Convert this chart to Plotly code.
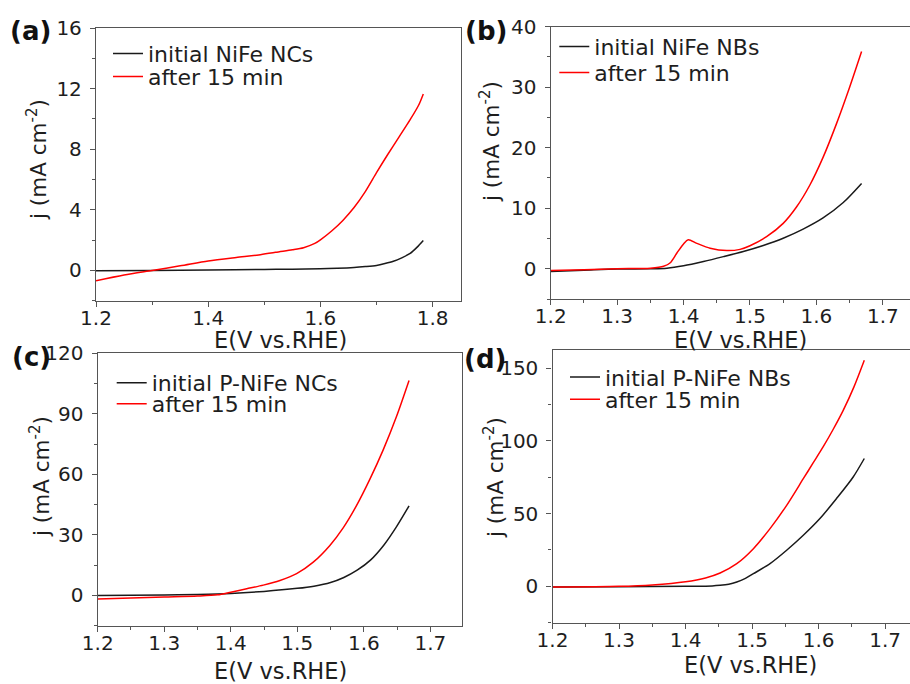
import plotly.graph_objects as go

W, H = 910, 684

# ---------------- data ----------------
# (a) NiFe NCs
a_black_x = [1.20, 1.30, 1.40, 1.50, 1.55, 1.60, 1.63, 1.66, 1.68, 1.70, 1.715, 1.73, 1.745, 1.76, 1.772, 1.7834]
a_black_y = [-0.02, 0.0, 0.03, 0.06, 0.08, 0.11, 0.14, 0.19, 0.25, 0.33, 0.45, 0.60, 0.83, 1.12, 1.52, 1.98]
a_red_x = [1.20, 1.25, 1.30, 1.35, 1.40, 1.45, 1.49, 1.52, 1.55, 1.57, 1.59, 1.60, 1.62,
           1.64, 1.66, 1.68, 1.70, 1.72, 1.74, 1.76, 1.775, 1.7834]
a_red_y = [-0.68, -0.30, 0.0, 0.30, 0.62, 0.85, 1.02, 1.20, 1.36, 1.50, 1.78, 2.02, 2.60,
           3.30, 4.15, 5.20, 6.45, 7.65, 8.80, 9.95, 10.90, 11.65]

# (b) NiFe NBs
b_black_x = [1.20, 1.25, 1.30, 1.35, 1.375, 1.40, 1.43, 1.46, 1.49, 1.52, 1.55, 1.58, 1.61, 1.64, 1.668]
b_black_y = [-0.45, -0.25, -0.05, 0.0, 0.1, 0.5, 1.2, 2.0, 2.85, 3.85, 5.05, 6.55, 8.4, 10.9, 14.1]
b_red_x = [1.20, 1.25, 1.30, 1.35, 1.37, 1.38, 1.39, 1.40, 1.407, 1.42, 1.44, 1.465, 1.485,
           1.50, 1.525, 1.55, 1.57, 1.59, 1.61, 1.63, 1.65, 1.668]
b_red_y = [-0.30, -0.15, 0.0, 0.1, 0.4, 1.0, 2.6, 4.1, 4.8, 4.2, 3.4, 3.0, 3.2,
           3.8, 5.3, 7.5, 10.2, 13.8, 18.4, 23.9, 30.0, 35.9]

# (c) P-NiFe NCs
c_black_x = [1.20, 1.30, 1.35, 1.40, 1.45, 1.50, 1.525, 1.55, 1.57, 1.59, 1.61, 1.63, 1.649, 1.668]
c_black_y = [0.0, 0.2, 0.5, 1.0, 2.0, 3.5, 4.6, 6.4, 8.9, 12.5, 17.5, 24.9, 34.0, 44.4]
c_red_x = [1.20, 1.25, 1.30, 1.35, 1.38, 1.40, 1.424, 1.449, 1.474, 1.499, 1.524, 1.549,
           1.569, 1.589, 1.609, 1.629, 1.649, 1.668]
c_red_y = [-1.8, -1.3, -0.8, -0.3, 0.3, 1.6, 3.3, 5.1, 7.4, 10.8, 16.5, 24.8,
           33.5, 44.5, 57.5, 72.0, 88.5, 106.5]

# (d) P-NiFe NBs
d_black_x = [1.20, 1.30, 1.40, 1.44, 1.452, 1.465, 1.477, 1.49, 1.502, 1.527, 1.552, 1.577,
             1.602, 1.627, 1.652, 1.6687]
d_black_y = [-0.5, -0.2, 0.1, 0.3, 0.7, 1.5, 3.0, 5.5, 8.7, 15.6, 24.8, 35.1,
             46.6, 60.4, 75.2, 87.9]
d_red_x = [1.20, 1.30, 1.35, 1.40, 1.43, 1.452, 1.477, 1.502, 1.527, 1.552, 1.577, 1.592,
           1.607, 1.622, 1.637, 1.653, 1.6687]
d_red_y = [-0.5, 0.0, 1.0, 3.2, 5.8, 9.2, 15.6, 25.9, 39.7, 55.7, 74.0, 85.0,
           96.0, 108.0, 121.0, 137.0, 155.5]

legend_black = ["initial NiFe NCs", "initial NiFe NBs", "initial P-NiFe NCs", "initial P-NiFe NBs"]
legend_red = "after 15 min"
panel_labels = ["(a)", "(b)", "(c)", "(d)"]
x_title = "E(V vs.RHE)"
y_title = "j (mA cm<sup>-2</sup>)"

# ---------------- layout geometry (pixels) ----------------
panels = [
    dict(l=96, r=461, t=28, b=300.7, xr=[1.2, 1.8506], yr=[-2, 16], xd=0.2, yd=4, rline=True),
    dict(l=550.7, r=910, t=26.7, b=299, xr=[1.2, 1.7409], yr=[-5, 40], xd=0.1, yd=10, rline=False),
    dict(l=97.7, r=462, t=353.3, b=625.7, xr=[1.2, 1.7476], yr=[-15, 120], xd=0.1, yd=30, rline=True),
    dict(l=552.5, r=910, t=350, b=622.7, xr=[1.2, 1.7374], yr=[-25, 162.5], xd=0.1, yd=50, rline=False),
]
series = [
    (a_black_x, a_black_y, a_red_x, a_red_y),
    (b_black_x, b_black_y, b_red_x, b_red_y),
    (c_black_x, c_black_y, c_red_x, c_red_y),
    (d_black_x, d_black_y, d_red_x, d_red_y),
]
legend_pos = [  # line start x, black y, red y
    (113, 52.0, 75.0),
    (559.3, 45, 71),
    (116.7, 381.2, 402.3),
    (570, 375.5, 397.7),
]
label_pos = [(30.3, 31.3), (485.5, 31), (31.5, 357), (484.5, 358.5)]
xtitle_pos = [(280, 339.5), (740.7, 339.5), (280.7, 671), (750.5, 665)]
ytitle_pos = [(37, 160), (490, 142), (40, 477), (494, 477)]

FONT = "DejaVu Sans"
AX = "#555555"
TXT = "#1e1e1e"

fig = go.Figure()
layout = dict(
    width=W, height=H, margin=dict(l=0, r=0, t=0, b=0, autoexpand=False),
    paper_bgcolor="white", plot_bgcolor="white",
    font=dict(family=FONT, color=TXT, size=19),
    showlegend=True,
    annotations=[],
)

LEG_FS = 22
leg_h = LEG_FS * 1.3
for i, (p, s) in enumerate(zip(panels, series)):
    k = "" if i == 0 else str(i + 1)
    xa, ya = "x" + k, "y" + k
    bx, by, rx, ry = s
    lg_b = "legend" + ("" if i == 0 else str(2 * i + 1))
    lg_r = "legend" + str(2 * i + 2)
    fig.add_trace(go.Scatter(x=bx, y=by, mode="lines", name=legend_black[i],
                             line=dict(color="#1a1a1a", width=1.5, shape="spline", smoothing=0.8),
                             xaxis=xa, yaxis=ya, legend=lg_b))
    fig.add_trace(go.Scatter(x=rx, y=ry, mode="lines", name=legend_red,
                             line=dict(color="#ff0000", width=1.5, shape="spline", smoothing=0.8),
                             xaxis=xa, yaxis=ya, legend=lg_r))
    common = dict(showline=True, linecolor=AX, linewidth=1.3, ticks="outside", tickcolor=AX,
                  tickwidth=1.2, ticklen=5, showgrid=False, zeroline=False, automargin=False,
                  tickfont=dict(family=FONT, size=20, color=TXT))
    layout["xaxis" + k] = dict(
        domain=[p["l"] / W, p["r"] / W], anchor=ya, range=p["xr"], tick0=1.2, dtick=p["xd"],
        tickformat=".1f", mirror=True, ticklabelstandoff=-6,
        minor=dict(dtick=p["xd"] / 2, tick0=1.2, ticks="outside", ticklen=3, tickcolor=AX, tickwidth=1.2),
        **common)
    layout["yaxis" + k] = dict(
        domain=[1 - p["b"] / H, 1 - p["t"] / H], anchor=xa, range=p["yr"], tick0=0, dtick=p["yd"],
        mirror=p["rline"], ticklabelstandoff=4,
        minor=dict(dtick=p["yd"] / 2, tick0=0, ticks="outside", ticklen=3, tickcolor=AX, tickwidth=1.2),
        **common)
    lx, lyb, lyr = legend_pos[i]
    for lg, yy in ((lg_b, lyb), (lg_r, lyr)):
        layout[lg] = dict(x=(lx - 5) / W, xanchor="left", y=1 - (yy - leg_h / 2 - 5) / H, yanchor="top",
                          bgcolor="rgba(0,0,0,0)", borderwidth=0,
                          font=dict(family=FONT, size=LEG_FS, color=TXT))
    layout["annotations"] += [
        dict(text="<b>" + panel_labels[i] + "</b>", x=label_pos[i][0] / W, y=1 - label_pos[i][1] / H,
             xref="paper", yref="paper", showarrow=False, xanchor="center", yanchor="middle",
             font=dict(family=FONT, size=26, color="#111111")),
        dict(text=x_title, x=xtitle_pos[i][0] / W, y=1 - xtitle_pos[i][1] / H,
             xref="paper", yref="paper", showarrow=False, xanchor="center", yanchor="middle",
             font=dict(family=FONT, size=22.5, color=TXT)),
        dict(text=y_title, x=ytitle_pos[i][0] / W, y=1 - ytitle_pos[i][1] / H, textangle=-90,
             xref="paper", yref="paper", showarrow=False, xanchor="center", yanchor="middle",
             font=dict(family=FONT, size=21.5, color=TXT)),
    ]

fig.update_layout(**layout)
fig.write_html("out.html")
